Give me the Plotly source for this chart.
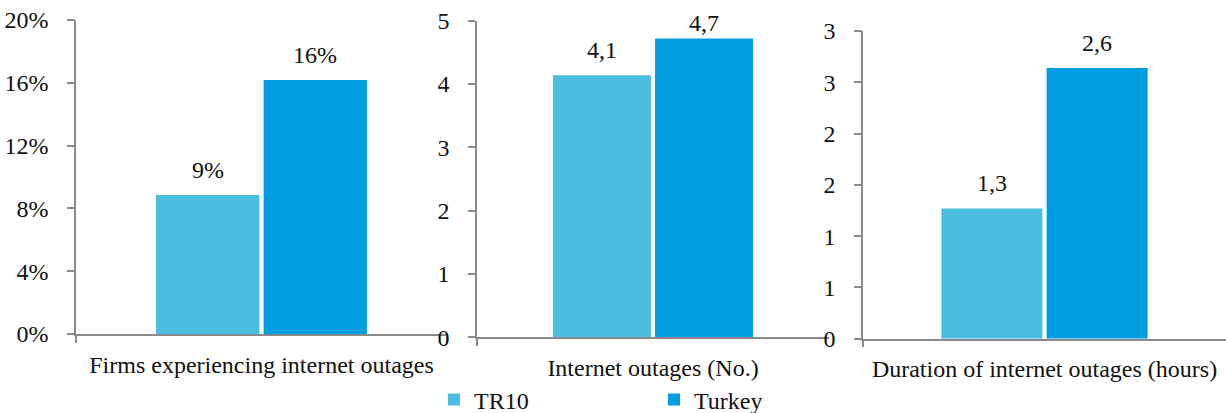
import plotly.graph_objects as go

# Survey results: TR10 region vs. Turkey
series = ["TR10", "Turkey"]
colors = ["#4ABEE0", "#009FE3"]

categories = [
    "Firms experiencing internet outages",
    "Internet outages (No.)",
    "Duration of internet outages (hours)",
]
tr10_values = [0.0885, 4.14, 1.27]
turkey_values = [0.1618, 4.72, 2.64]

# y-axis scales per panel: (max, step, tick format)
y_max = [0.20, 5, 3]
y_step = [0.04, 1, 0.5]
y_fmt = [".0%", ".0f", ".0f"]


def value_label(panel, v):
    if panel == 0:
        return f"{v:.0%}"
    return f"{v:.1f}".replace(".", ",")


W, H = 1226, 413
# panel boxes in pixels: (left, right, top, bottom)
boxes = [(76, 447, 20, 334), (477, 829, 20.7, 337.3), (863, 1226, 31, 338.7)]

BARGAP, GROUPGAP = 0.42, 0.04
FONT = "Liberation Serif, Times New Roman, serif"
FONT_SIZE = 24
TEXT_COLOR = "#111111"
AXIS_COLOR = "#8A8A8A"

fig = go.Figure()
layout = dict(
    width=W, height=H,
    margin=dict(l=0, r=0, t=0, b=0, autoexpand=False),
    paper_bgcolor="white", plot_bgcolor="white",
    barmode="group", bargap=BARGAP, bargroupgap=GROUPGAP,
    separators=",.",
    font=dict(family=FONT, size=FONT_SIZE, color=TEXT_COLOR),
    showlegend=True,
    legend=dict(orientation="h", x=434 / W, y=1 - 400 / H, xanchor="left", yanchor="middle",
                entrywidth=175, font=dict(family=FONT, size=FONT_SIZE, color=TEXT_COLOR),
                bgcolor="rgba(0,0,0,0)"),
    annotations=[],
)

for i, cat in enumerate(categories):
    xa = "x" if i == 0 else f"x{i + 1}"
    ya = "y" if i == 0 else f"y{i + 1}"
    for s, (name, vals) in enumerate(zip(series, [tr10_values, turkey_values])):
        fig.add_trace(go.Bar(
            x=[cat], y=[vals[i]], name=name, marker_color=colors[s],
            marker_line_width=0, xaxis=xa, yaxis=ya,
            legendgroup=name, showlegend=(i == 0), hoverinfo="skip",
        ))

    l, r, t, b = boxes[i]
    xkey = "xaxis" if i == 0 else f"xaxis{i + 1}"
    ykey = "yaxis" if i == 0 else f"yaxis{i + 1}"
    layout[xkey] = dict(
        domain=[l / W, r / W], anchor=ya, type="category",
        showline=True, linecolor=AXIS_COLOR, linewidth=1.5,
        ticks="outside", tickson="boundaries", ticklen=7, tickcolor=AXIS_COLOR, tickwidth=1.5,
        ticklabelstandoff=8, showgrid=False, zeroline=False, automargin=False,
        tickfont=dict(family=FONT, size=FONT_SIZE, color=TEXT_COLOR),
        fixedrange=True,
    )
    layout[ykey] = dict(
        domain=[1 - b / H, 1 - t / H], anchor=xa,
        range=[0, y_max[i]], dtick=y_step[i], tick0=0, tickformat=y_fmt[i],
        showline=True, linecolor=AXIS_COLOR, linewidth=1.5,
        ticks="outside", ticklen=7, tickcolor=AXIS_COLOR, tickwidth=1.5,
        ticklabelstandoff=14, showgrid=False, zeroline=False, automargin=False,
        tickfont=dict(family=FONT, size=FONT_SIZE, color=TEXT_COLOR),
        fixedrange=True,
    )

    # value labels above each bar, kept inside the panel's top edge
    offset = (1 - BARGAP) / 4
    for s, vals in enumerate([tr10_values, turkey_values]):
        v = vals[i]
        bar_top_px = b - v / y_max[i] * (b - t)
        yshift = min(10, bar_top_px - 38)
        layout["annotations"].append(dict(
            x=-offset if s == 0 else offset, y=v, xref=xa, yref=ya,
            text=value_label(i, v), showarrow=False,
            yanchor="bottom", xanchor="center", yshift=yshift,
            font=dict(family=FONT, size=FONT_SIZE, color=TEXT_COLOR),
        ))

fig.update_layout(**layout)
fig.write_html("out.html")
